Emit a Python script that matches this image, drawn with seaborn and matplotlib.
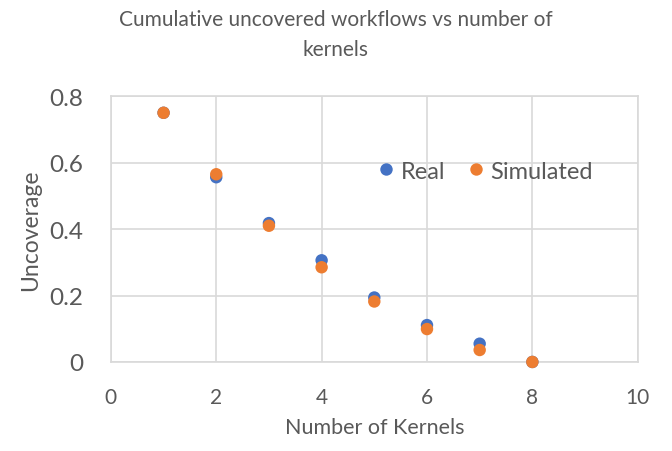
import numpy as np
import pandas as pd
import matplotlib
matplotlib.use('Agg')
import matplotlib.pyplot as plt
import seaborn as sns

# Values
kernels = [1, 2, 3, 4, 5, 6, 7, 8]
real = [0.75, 0.556, 0.418, 0.306, 0.194, 0.111, 0.055, 0.0]
simulated = [0.75, 0.565, 0.41, 0.285, 0.182, 0.099, 0.036, 0.0]
series = ['Real', 'Simulated']
colors = ['#4472C4', '#ED7D31']
x_ticks = [0, 2, 4, 6, 8, 10]
y_ticks = [0, 0.2, 0.4, 0.6, 0.8]

df = pd.DataFrame({
    'Number of Kernels': kernels * 2,
    'Uncoverage': real + simulated,
    'Series': [series[0]] * len(kernels) + [series[1]] * len(kernels),
})

sns.set_theme(style='white')
plt.rcParams['font.family'] = ['Lato', 'DejaVu Sans']
text_color = '#595959'
grid_color = '#D9D9D9'

fig = plt.figure(figsize=(6.72, 4.52), dpi=100)
ax = fig.add_axes([0.165, 0.197, 0.784, 0.588])

sns.scatterplot(data=df, x='Number of Kernels', y='Uncoverage', hue='Series',
                palette=dict(zip(series, colors)), s=80, edgecolor='none',
                ax=ax, zorder=3, clip_on=False)

ax.set_xlim(0, 10)
ax.set_ylim(0, 0.8)
ax.set_xticks(x_ticks)
ax.set_yticks(y_ticks)
ax.set_xticklabels([str(t) for t in x_ticks])
ax.set_yticklabels(['0', '0.2', '0.4', '0.6', '0.8'])
ax.tick_params(axis='x', labelsize=15, colors=text_color, length=0, pad=18)
ax.tick_params(axis='y', labelsize=17.5, colors=text_color, length=0, pad=20)
ax.grid(True, color=grid_color, linewidth=1.2)
for sp in ax.spines.values():
    sp.set_color(grid_color)
    sp.set_linewidth(1.2)
ax.set_axisbelow(True)

ax.set_xlabel('Number of Kernels', fontsize=15.5, color=text_color, labelpad=7)
ax.set_ylabel('Uncoverage', fontsize=16.5, color=text_color, labelpad=6)

fig.suptitle('Cumulative uncovered workflows vs number of\nkernels',
             fontsize=15, color=text_color, y=0.978, linespacing=1.65)

leg = ax.legend(loc='center', bbox_to_anchor=(0.705, 0.718), ncol=2, frameon=False,
                fontsize=17, handletextpad=0.0, columnspacing=0.7, handlelength=1.2,
                markerscale=1.0, borderaxespad=0)
for t in leg.get_texts():
    t.set_color(text_color)

fig.savefig('out.png', dpi=100)
